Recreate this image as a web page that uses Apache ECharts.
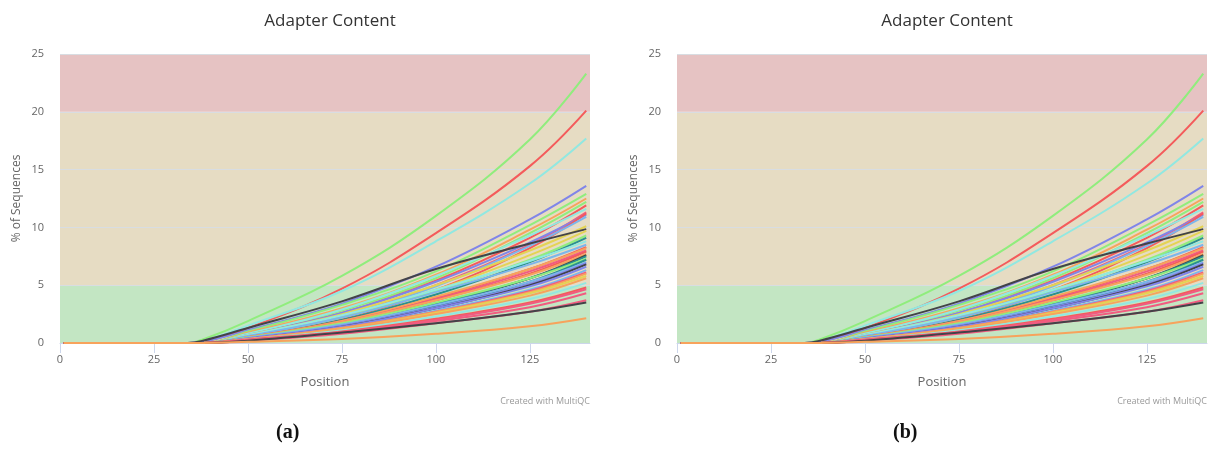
<!DOCTYPE html>
<html>
<head>
<meta charset="utf-8">
<script src="https://cdn.jsdelivr.net/npm/echarts@6/dist/echarts.min.js"></script>
<style>
  html, body { margin: 0; padding: 0; background: #fff; }
  #chart { width: 1213px; height: 450px; }
</style>
</head>
<body>
<div id="chart"></div>
<script>
const positions = [1, 34, 38, 50, 75, 100, 125, 140];

// % of sequences with adapter, one row per sample
const adapterPct = [
  [0, 0, 0.3, 1.9, 5.8, 11.0, 17.6, 23.3],
  [0, 0, 0.1, 1.3, 4.7, 9.5, 15.3, 20.1],
  [0, 0, 0.15, 1.5, 4.5, 8.8, 13.8, 17.7],
  [0, 0, 0.1, 1.1, 3.4, 6.6, 10.7, 13.6],
  [0, 0, 0, 1.0, 3.3, 6.2, 10.2, 12.9],
  [0, 0, 0, 0.9, 3.0, 5.9, 9.8, 12.5],
  [0, 0, 0, 0.8, 2.8, 5.6, 9.5, 12.2],
  [0, 0, 0, 0.7, 2.6, 5.4, 9.1, 11.9],
  [0, 0, 0, 0.8, 2.9, 5.8, 9.3, 11.6],
  [0, 0, 0, 0.6, 2.4, 5.0, 8.5, 11.3],
  [0, 0, 0, 0.7, 2.6, 5.3, 8.7, 11.1],
  [0, 0, 0, 0.5, 2.1, 4.6, 8.2, 11.2],
  [0, 0, 0, 0.6, 2.3, 4.9, 8.4, 10.9],
  [0, 0, 0, 0.7, 2.5, 5.0, 8.0, 10.1],
  [0, 0, 0.2, 1.3, 3.6, 6.4, 8.6, 9.85],
  [0, 0, 0, 0.6, 2.2, 4.6, 7.6, 9.7],
  [0, 0, 0, 0.6, 2.2, 4.5, 7.2, 9.3],
  [0, 0, 0, 0.5, 2.0, 4.2, 7.0, 9.1],
  [0, 0, 0, 0.7, 2.4, 4.6, 7.1, 8.8],
  [0, 0, 0, 0.6, 2.2, 4.4, 6.8, 8.5],
  [0, 0, 0, 0.5, 1.9, 3.9, 6.4, 8.3],
  [0, 0, 0, 0.5, 1.9, 4.0, 6.4, 8.2],
  [0, 0, 0, 0.5, 1.8, 3.8, 6.2, 8.0],
  [0, 0, 0, 0.45, 1.7, 3.7, 6.0, 7.9],
  [0, 0, 0, 0.5, 1.8, 3.7, 5.9, 7.7],
  [0, 0, 0, 0.4, 1.5, 3.3, 5.6, 7.6],
  [0, 0, 0, 0.45, 1.6, 3.4, 5.6, 7.5],
  [0, 0, 0, 0.5, 1.7, 3.5, 5.6, 7.3],
  [0, 0, 0, 0.4, 1.5, 3.2, 5.3, 7.2],
  [0, 0, 0, 0.45, 1.6, 3.3, 5.3, 7.0],
  [0, 0, 0, 0.4, 1.5, 3.1, 5.1, 6.9],
  [0, 0, 0, 0.35, 1.4, 3.0, 5.0, 6.8],
  [0, 0, 0, 0.4, 1.4, 3.0, 4.9, 6.6],
  [0, 0, 0, 0.35, 1.3, 2.8, 4.6, 6.3],
  [0, 0, 0, 0.35, 1.3, 2.7, 4.5, 6.1],
  [0, 0, 0, 0.35, 1.3, 2.7, 4.4, 6.0],
  [0, 0, 0, 0.3, 1.2, 2.6, 4.3, 5.8],
  [0, 0, 0, 0.3, 1.2, 2.5, 4.1, 5.6],
  [0, 0, 0, 0.3, 1.1, 2.3, 3.8, 5.2],
  [0, 0, 0, 0.3, 1.0, 2.1, 3.5, 4.8],
  [0, 0, 0, 0.25, 0.95, 2.0, 3.4, 4.65],
  [0, 0, 0, 0.25, 0.9, 1.9, 3.1, 4.3],
  [0, 0, 0, 0.2, 0.8, 1.7, 2.7, 3.7],
  [0, 0, 0, 0.2, 0.9, 1.7, 2.7, 3.5],
  [0, 0, 0, 0.1, 0.35, 0.8, 1.45, 2.15]
];

const lineColors = [
  '#90ed7d', '#f45b5b', '#91e8e1', '#8085e9', '#90ed7d', '#f7a35c', '#90ed7d', '#f45b5b',
  '#91e8e1', '#f15c80', '#8085e9', '#f45b5b', '#7cb5ec', '#e4d354', '#434348', '#e4d354',
  '#90ed7d', '#2b908f', '#91e8e1', '#7cb5ec', '#f45b5b', '#f7a35c', '#f15c80', '#f45b5b',
  '#f7a35c', '#434348', '#2b908f', '#90ed7d', '#2b908f', '#7cb5ec', '#8085e9', '#434348',
  '#8085e9', '#7cb5ec', '#f15c80', '#f7a35c', '#e4d354', '#f7a35c', '#91e8e1', '#f45b5b',
  '#f15c80', '#f15c80', '#f15c80', '#434348', '#f7a35c'
];

const yTicks = { min: 0, max: 25, interval: 5 };
const xTicks = { min: 0, max: 141, interval: 25 };
const panelLabels = ['(a)', '(b)'];

const chart = echarts.init(document.getElementById('chart'));

const panelLeft = [60, 677];
const panelWidth = 530;

const grids = [], xAxes = [], yAxes = [], titles = [], series = [], graphics = [];

panelLeft.forEach((left, p) => {
  const cx = left + panelWidth / 2;
  grids.push({ left: left, top: 54, width: panelWidth, height: 289 });
  titles.push({
    text: 'Adapter Content',
    left: cx, top: 8, textAlign: 'center',
    textStyle: { color: '#333', fontSize: 17, fontWeight: 'normal', fontFamily: 'Open Sans' }
  });
  xAxes.push({
    gridIndex: p, type: 'value',
    min: xTicks.min, max: xTicks.max, interval: xTicks.interval,
    name: 'Position', nameLocation: 'middle', nameGap: 33,
    nameTextStyle: { color: '#666', fontSize: 13, fontFamily: 'Open Sans' },
    axisLine: { show: true, lineStyle: { color: '#ccd6eb' } },
    axisTick: { show: true, length: 10, lineStyle: { color: '#ccd6eb' } },
    axisLabel: { color: '#666', fontSize: 11, margin: 11, fontFamily: 'Open Sans',
      showMaxLabel: false },
    splitLine: { show: false }
  });
  yAxes.push({
    gridIndex: p, type: 'value',
    min: yTicks.min, max: yTicks.max, interval: yTicks.interval,
    name: '% of Sequences', nameLocation: 'middle', nameGap: 37, nameRotate: 90,
    nameTextStyle: { color: '#666', fontSize: 12, fontFamily: 'Open Sans' },
    axisLine: { show: false },
    axisTick: { show: false },
    axisLabel: { color: '#666', fontSize: 11, margin: 16, fontFamily: 'Open Sans' },
    splitLine: { show: true, lineStyle: { color: '#d8dde2', width: 1 } },
    splitArea: { show: true, areaStyle: { color: ['#c3e6c3', '#e6dcc3', '#e6dcc3', '#e6dcc3', '#e6c3c3'] } }
  });
  adapterPct.forEach((vals, i) => {
    series.push({
      type: 'line',
      xAxisIndex: p, yAxisIndex: p,
      data: positions.map((x, j) => [x, vals[j]]),
      smooth: 0.4,
      showSymbol: false,
      silent: true,
      lineStyle: { width: 2, color: lineColors[i % lineColors.length] },
      z: 3
    });
  });
  graphics.push({
    type: 'text', right: 1213 - (left + panelWidth), top: 397,
    style: { text: 'Created with MultiQC', fill: '#999', font: '9px "Open Sans"', textAlign: 'right' }
  });
  graphics.push({
    type: 'text', left: cx - 49, top: 423,
    style: { text: panelLabels[p], fill: '#111', font: 'bold 20px "Liberation Serif"' }
  });
});

chart.setOption({
  animation: false,
  title: titles,
  grid: grids,
  xAxis: xAxes,
  yAxis: yAxes,
  series: series,
  graphic: graphics
});
</script>
</body>
</html>
